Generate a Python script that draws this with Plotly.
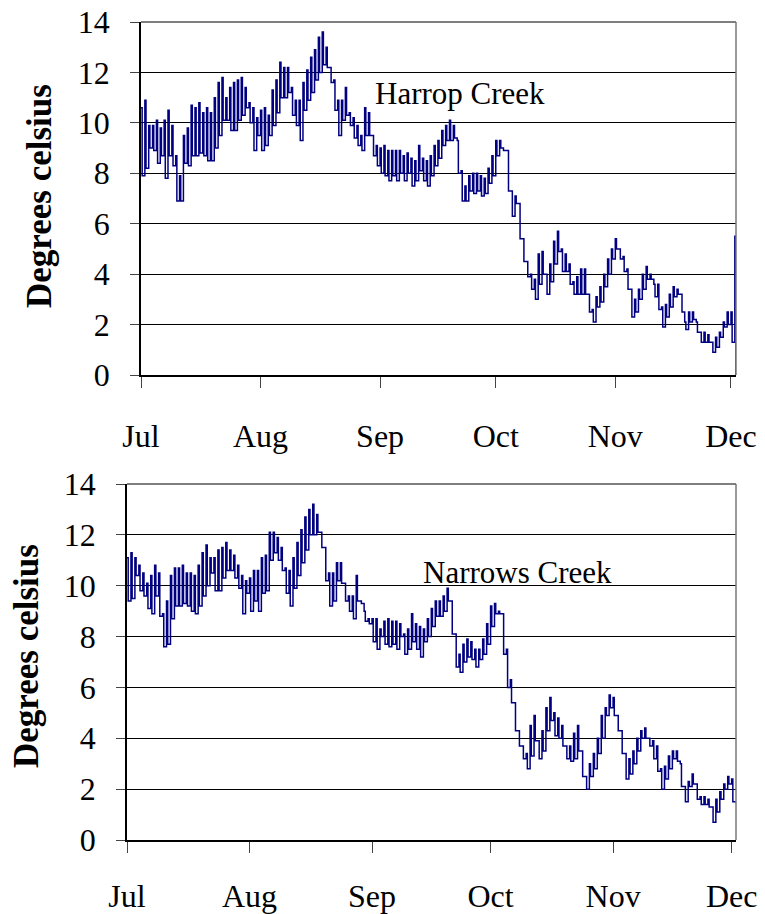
import pandas as pd
import plotly.graph_objects as go

months = ["Jul", "Aug", "Sep", "Oct", "Nov", "Dec"]
y_ticks = [0, 2, 4, 6, 8, 10, 12, 14]
site_names = ["Harrop Creek", "Narrows Creek"]
y_title = "Degrees celsius"

# Daily maximum / minimum temperature (deg C), day 0 = 1 July
harrop_hi = [10.6, 10.9, 9.9, 9.9, 10.1, 9.8, 10.1, 10.5, 9.9, 8.7,
             7.9, 9.5, 9.8, 10.7, 10.6, 10.8, 10.4, 10.6, 10.4, 11.0,
             11.6, 11.8, 11.0, 11.4, 11.6, 11.7, 11.8, 11.4, 10.8, 10.6,
             10.2, 10.5, 10.6, 10.3, 11.3, 11.7, 12.4, 12.2, 12.2, 11.4,
             10.9, 10.9, 11.6, 12.1, 12.6, 12.9, 13.4, 13.6, 13.0, 12.2,
             11.7, 10.9, 10.9, 11.4, 10.4, 10.2, 9.9, 9.5, 10.6, 10.4,
             9.5, 9.1, 9.0, 9.1, 8.9, 8.9, 8.9, 8.9, 8.7, 8.8,
             8.6, 8.5, 9.1, 8.6, 8.5, 8.7, 9.1, 9.3, 9.7, 9.9,
             10.1, 9.9, 9.3, 8.1, 7.5, 7.9, 8.0, 8.0, 7.9, 7.8,
             8.2, 8.7, 9.3, 9.3, 8.9, 8.9, 7.3, 7.1, 6.8, 5.4,
             4.5, 4.0, 3.8, 4.8, 4.9, 4.0, 4.4, 5.3, 5.7, 5.0,
             4.8, 4.4, 3.7, 3.9, 4.2, 4.2, 3.2, 2.6, 3.1, 3.5,
             4.0, 4.6, 5.0, 5.4, 5.0, 4.7, 4.2, 3.4, 3.0, 3.4,
             4.0, 4.3, 4.0, 3.6, 3.6, 2.7, 2.8, 3.2, 3.5, 3.4,
             3.2, 2.1, 2.5, 2.5, 2.1, 1.7, 1.7, 1.6, 1.3, 1.5,
             1.7, 2.1, 2.5, 2.5, 5.5]
harrop_lo = [7.9, 8.2, 9.0, 8.9, 8.4, 8.7, 7.8, 8.7, 8.3, 6.9,
             6.9, 8.4, 8.3, 8.7, 8.7, 8.8, 8.7, 8.5, 8.5, 9.0,
             9.5, 10.1, 10.1, 9.7, 9.7, 10.1, 10.3, 10.6, 10.0, 8.9,
             9.5, 8.9, 9.1, 9.5, 9.9, 10.4, 11.0, 11.0, 11.2, 10.3,
             9.9, 9.3, 10.5, 10.9, 11.2, 11.7, 12.0, 12.3, 12.2, 11.6,
             10.5, 9.5, 10.1, 10.3, 9.9, 9.4, 9.1, 8.9, 9.5, 9.5,
             8.7, 8.3, 8.0, 7.9, 7.7, 7.9, 7.7, 8.0, 7.7, 8.0,
             7.5, 7.7, 8.1, 7.7, 7.5, 7.9, 8.3, 8.6, 9.1, 9.3,
             9.3, 9.4, 8.0, 6.9, 6.9, 7.3, 7.2, 7.3, 7.1, 7.2,
             7.6, 7.9, 8.7, 9.0, 8.9, 7.3, 6.3, 6.8, 5.4, 4.5,
             3.9, 3.4, 3.0, 3.6, 4.0, 3.2, 3.7, 4.4, 4.9, 4.1,
             4.1, 3.6, 3.2, 3.2, 3.2, 3.2, 2.5, 2.1, 2.7, 2.9,
             3.5, 4.0, 4.6, 5.0, 4.6, 4.1, 3.4, 2.3, 2.5, 3.0,
             3.4, 3.8, 3.8, 3.1, 2.6, 1.9, 2.3, 2.7, 3.1, 3.2,
             2.5, 1.8, 2.1, 2.2, 1.7, 1.3, 1.3, 1.3, 0.9, 1.1,
             1.5, 1.9, 2.0, 1.3, 0.0]
narrows_hi = [11.1, 11.3, 11.1, 10.8, 10.5, 10.1, 10.4, 10.8, 10.5, 8.9,
              9.4, 10.4, 10.7, 10.7, 10.8, 10.5, 10.5, 10.4, 10.8, 11.3,
              11.6, 11.1, 11.1, 11.4, 11.5, 11.7, 11.4, 11.2, 10.8, 10.4,
              10.2, 10.3, 10.6, 10.6, 11.1, 11.2, 12.1, 12.1, 11.9, 11.5,
              10.7, 10.6, 11.1, 11.7, 12.2, 12.7, 13.0, 13.2, 12.8, 12.1,
              11.5, 10.5, 10.5, 10.9, 10.9, 10.1, 9.6, 9.6, 10.4, 9.4,
              9.0, 8.7, 8.7, 8.7, 8.3, 8.6, 8.7, 8.6, 8.6, 8.5,
              8.1, 8.3, 8.9, 8.5, 8.4, 8.3, 8.7, 9.1, 9.4, 9.4,
              9.6, 9.9, 9.4, 8.1, 7.3, 7.7, 7.9, 7.8, 7.5, 7.5,
              7.9, 8.5, 9.2, 9.3, 9.0, 8.9, 7.5, 6.3, 5.4, 4.3,
              3.7, 3.4, 4.5, 4.9, 3.9, 4.3, 5.2, 5.6, 5.0, 4.8,
              4.5, 3.7, 3.7, 4.2, 4.5, 3.5, 2.5, 3.0, 3.4, 4.0,
              4.9, 5.2, 5.7, 5.6, 4.9, 4.3, 3.4, 3.2, 3.5, 4.0,
              4.3, 4.4, 4.0, 3.9, 3.7, 2.8, 2.9, 3.3, 3.5, 3.5,
              3.0, 2.1, 2.3, 2.6, 2.2, 1.7, 1.7, 1.6, 1.3, 1.6,
              1.9, 2.2, 2.5, 2.4, 1.5]
narrows_lo = [9.4, 9.5, 10.4, 9.8, 9.6, 9.1, 8.9, 9.6, 8.8, 7.6,
              7.7, 8.7, 9.2, 9.2, 9.3, 9.2, 9.0, 8.9, 9.2, 9.6,
              10.0, 10.5, 9.8, 9.8, 10.3, 10.6, 10.6, 10.3, 9.9, 8.9,
              9.7, 9.0, 9.4, 9.0, 9.7, 9.8, 11.0, 11.3, 11.0, 10.6,
              9.7, 9.2, 9.9, 10.4, 10.9, 11.4, 12.0, 12.0, 12.1, 11.5,
              10.2, 9.2, 9.4, 10.2, 10.1, 9.4, 9.0, 8.7, 9.4, 9.3,
              8.6, 8.5, 7.8, 7.5, 8.0, 7.7, 7.6, 7.7, 7.5, 8.0,
              7.3, 7.5, 7.8, 7.5, 7.2, 7.8, 8.0, 8.4, 8.8, 8.8,
              9.0, 9.4, 8.1, 6.8, 6.6, 7.0, 7.2, 7.1, 6.8, 7.1,
              7.3, 7.7, 8.4, 8.9, 8.9, 7.3, 6.0, 5.4, 4.3, 3.7,
              3.2, 2.8, 3.3, 3.9, 3.2, 3.5, 4.3, 4.7, 4.1, 4.0,
              3.7, 3.2, 3.1, 3.2, 3.5, 2.5, 2.0, 2.5, 2.8, 3.4,
              4.0, 4.9, 5.2, 4.9, 4.3, 3.4, 2.4, 2.6, 3.0, 3.5,
              4.0, 4.0, 3.7, 3.2, 2.7, 2.0, 2.4, 2.8, 3.2, 3.1,
              2.1, 1.5, 2.1, 2.2, 1.6, 1.4, 1.4, 1.3, 0.7, 1.1,
              1.6, 2.0, 2.2, 1.5, 1.4]

start = pd.Timestamp("2003-07-01")
month_starts = list(pd.date_range(start, periods=len(months), freq="MS"))


def day_to_date(d):
    return start + pd.Timedelta(hours=24 * d)


def step_series(hi, lo):
    xs, ys = [], []
    for d, (h, l) in enumerate(zip(hi, lo)):
        xs += [day_to_date(d), day_to_date(d + 0.3)]
        ys += [h, l]
    return xs, ys


# the page body margin is removed below, so figure pixels = window pixels
W, H = 765, 914
FONT = "Liberation Serif"
LINE = "#000080"


def fx(px):
    return px / W


def fy(py):
    return 1 - py / H


fig = go.Figure()
hx, hy = step_series(harrop_hi, harrop_lo)
nx, ny = step_series(narrows_hi, narrows_lo)
fig.add_trace(go.Scatter(x=hx, y=hy, mode="lines", line=dict(color=LINE, width=1.5, shape="hv"),
                         xaxis="x", yaxis="y", showlegend=False, hoverinfo="skip"))
fig.add_trace(go.Scatter(x=nx, y=ny, mode="lines", line=dict(color=LINE, width=1.5, shape="hv"),
                         xaxis="x2", yaxis="y2", showlegend=False, hoverinfo="skip"))

# plot-area boxes in window pixels: (left, right, top, bottom)
boxes = [(141, 736, 22, 375), (127, 736, 484, 840)]
x_end = [154.3, 154.1]
x_standoff = [21, 16]


def xaxis_cfg(box, xe, so, anchor):
    l, r, t, b = box
    return dict(domain=[fx(l), fx(r)], anchor=anchor, type="date",
                range=[start, day_to_date(xe)], automargin=False,
                ticklabeloverflow="allow",
                tickmode="array", tickvals=month_starts, ticktext=months,
                ticks="outside", ticklen=11, tickcolor="#444", tickwidth=1.3,
                ticklabelstandoff=so,
                showline=True, linecolor="black", linewidth=1.5,
                showgrid=False, zeroline=False,
                tickfont=dict(family=FONT, size=32, color="black"))


def yaxis_cfg(box, anchor):
    l, r, t, b = box
    return dict(domain=[fy(b), fy(t)], anchor=anchor, automargin=False,
                ticklabeloverflow="allow",
                range=[0, 14], tickmode="array", tickvals=y_ticks,
                ticks="outside", ticklen=9, tickcolor="#444", tickwidth=1.3,
                ticklabelstandoff=14,
                showline=True, linecolor="black", linewidth=1.5,
                showgrid=True, gridcolor="black", gridwidth=1.2, zeroline=False,
                tickfont=dict(family=FONT, size=32, color="black"))


fig.update_layout(
    width=W, height=H, autosize=False,
    margin=dict(l=0, r=0, t=0, b=0, pad=0, autoexpand=False),
    paper_bgcolor="white", plot_bgcolor="white",
    xaxis=xaxis_cfg(boxes[0], x_end[0], x_standoff[0], "y"),
    yaxis=yaxis_cfg(boxes[0], "x"),
    xaxis2=xaxis_cfg(boxes[1], x_end[1], x_standoff[1], "y2"),
    yaxis2=yaxis_cfg(boxes[1], "x2"),
)

# top and right borders of each plot area
for l, r, t, b in boxes:
    fig.add_shape(type="line", xref="paper", yref="paper", x0=fx(l), x1=fx(r), y0=fy(t), y1=fy(t),
                  line=dict(color="#555", width=1.5))
    fig.add_shape(type="line", xref="paper", yref="paper", x0=fx(r), x1=fx(r), y0=fy(b), y1=fy(t),
                  line=dict(color="#777", width=1.5))

# site labels
label_pos = [(460, 93), (517, 572)]
for name, (px, py) in zip(site_names, label_pos):
    fig.add_annotation(text=name, xref="paper", yref="paper", x=fx(px), y=fy(py),
                       showarrow=False, xanchor="center", yanchor="middle",
                       font=dict(family=FONT, size=31, color="black"))

# y-axis titles
title_pos = [(40, 196), (26, 656)]
for px, py in title_pos:
    fig.add_annotation(text="<b>" + y_title + "</b>", xref="paper", yref="paper",
                       x=fx(px), y=fy(py), showarrow=False, textangle=-90,
                       xanchor="center", yanchor="middle",
                       font=dict(family=FONT, size=35, color="black"))

fig.write_html("out.html",
               config={"displayModeBar": False},
               post_script="document.body.style.margin='0';document.body.style.overflow='hidden';")
